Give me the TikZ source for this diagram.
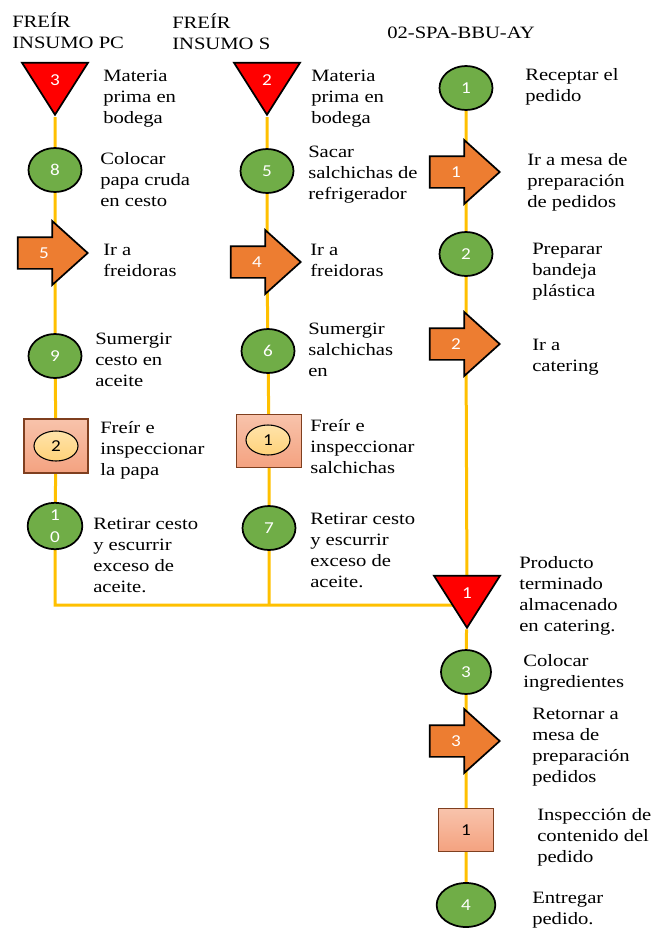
\documentclass[tikz,border=0pt]{standalone}
\usepackage{fontspec}
\setmainfont{Liberation Serif}[FakeStretch=1.19]
\newfontfamily\numfont{Carlito}[FakeStretch=1.15]
\usepackage{tikz}
\usetikzlibrary{shapes,arrows,backgrounds}

\definecolor{opgreen}{HTML}{70AD47}
\definecolor{mvorange}{HTML}{ED7D31}
\definecolor{flowline}{HTML}{FFC000}
\definecolor{insptop}{HTML}{F8C3AB}
\definecolor{inspbot}{HTML}{F4A280}
\definecolor{inspedge}{HTML}{7F3F1F}
\definecolor{innertop}{HTML}{FFE3AA}
\definecolor{innerbot}{HTML}{FFD27A}

\begin{document}
\begin{tikzpicture}
		[
		x = 0.75pt, y = -0.75pt,
		oper/.style = {ellipse, draw, line width=1.3pt, fill=opgreen, minimum width=39.75pt, minimum height=33pt, inner sep=0pt, text=white, align=center, font=\numfont\fontsize{12.5}{16.5}\selectfont},
		stor/.style = {isosceles triangle, isosceles triangle stretches, shape border rotate=-90, draw, line width=1.3pt, fill=red, minimum width=49.5pt, minimum height=39pt, inner sep=0pt, anchor=apex, text=white, font=\numfont\fontsize{12.5}{15}\selectfont},
		move/.style = {single arrow, draw, line width=1.3pt, fill=mvorange, minimum height=52.5pt, single arrow head extend=12pt, single arrow tip angle=84, inner xsep=0pt, inner ysep=7.25pt, text height=8pt, text depth=0pt, anchor=tip, text=white, font=\numfont\fontsize{12.5}{15}\selectfont},
		insp/.style = {rectangle, draw=inspedge, line width=0.8pt, top color=insptop, bottom color=inspbot, minimum width=48pt, minimum height=40.5pt, font=\numfont\fontsize{12.5}{15}\selectfont},
		both/.style = {ellipse, draw, line width=0.8pt, top color=innertop, bottom color=innerbot, minimum width=33pt, minimum height=22.5pt, inner sep=0pt, font=\numfont\fontsize{12.5}{15}\selectfont},
		flow/.style = {draw=flowline, line width=2.25pt},
		txt/.style = {anchor=north west, align=left, inner sep=0pt, font=\fontsize{13}{15.75}\selectfont}
		]
		
		\useasboundingbox (0,0) rectangle (659,929);
		
		\node[txt] (h-pc) at (12,12) {FREÍR\\INSUMO PC};
		\node[stor] (t3) at (55,117) {3};
		\node[txt] (d-t3) at (103,70) {Materia\\prima en\\bodega};
		\node[oper] (o8) at (55,170) {8};
		\node[txt] (d-o8) at (100,152) {Colocar\\papa cruda\\en cesto};
		\node[move] (a5) at (89,253) {5};
		\node[txt] (d-a5) at (103,244) {Ir a\\freidoras};
		\node[oper] (o9) at (55,356) {9};
		\node[txt] (d-o9) at (95,333) {Sumergir\\cesto en\\aceite};
		\node[insp] (c2) at (56,446) {};
		\node[both] (c2in) at (c2) {2};
		\node[txt] (d-c2) at (100,421) {Freír e\\inspeccionar\\la papa};
		\node[oper, minimum width=41pt] (o10) at (55,526) {1\\0};
		\node[txt] (d-o10) at (93,518) {Retirar cesto\\y escurrir\\exceso de\\aceite.};
		
		\node[txt] (h-s) at (172,13) {FREÍR\\INSUMO S};
		\node[stor] (t2) at (267,117) {2};
		\node[txt] (d-t2) at (311,70) {Materia\\prima en\\bodega};
		\node[oper] (o5) at (267,171) {5};
		\node[txt] (d-o5) at (308,146) {Sacar\\salchichas de\\refrigerador};
		\node[move] (a4) at (302,262) {4};
		\node[txt] (d-a4) at (310,244) {Ir a\\freidoras};
		\node[oper] (o6) at (268,351) {6};
		\node[txt] (d-o6) at (308,323) {Sumergir\\salchichas\\en};
		\node[insp, minimum width=48.75pt, minimum height=39.75pt] (c1) at (269,441) {};
		\node[both] (c1in) at (268,440) {1};
		\node[txt] (d-c1) at (310,419) {Freír e\\inspeccionar\\salchichas};
		\node[oper] (o7) at (269,528) {7};
		\node[txt] (d-o7) at (310,513) {Retirar cesto\\y escurrir\\exceso de\\aceite.};
		
		\node[txt] (h-ay) at (387,27) {02-SPA-BBU-AY};
		\node[oper] (o1) at (466,88) {1};
		\node[txt] (d-o1) at (525,68) {Receptar el\\pedido};
		\node[move] (a1) at (501,172) {1};
		\node[txt] (d-a1) at (527,153) {Ir a mesa de\\preparación\\de pedidos};
		\node[oper] (o2) at (466,254) {2};
		\node[txt] (d-o2) at (532,243) {Preparar\\bandeja\\plástica};
		\node[move] (a2) at (501,344) {2};
		\node[txt] (d-a2) at (532,339) {Ir a\\catering};
		\node[stor] (t1) at (467,630) {1};
		\node[txt] (d-t1) at (519,556) {Producto\\terminado\\almacenado\\en catering.};
		\node[oper, minimum width=37.5pt] (o3) at (466,672) {3};
		\node[txt] (d-o3) at (523,654) {Colocar\\ingredientes};
		\node[move] (a3) at (501,741) {3};
		\node[txt] (d-a3) at (532,708) {Retornar a\\mesa de\\preparación\\pedidos};
		\node[insp, minimum width=41pt, minimum height=32pt] (s1) at (466,830) {1};
		\node[txt] (d-s1) at (537,808) {Inspección de\\contenido del\\pedido};
		\node[oper, minimum width=44pt] (o4) at (466,905) {4};
		\node[txt] (d-o4) at (532,892) {Entregar\\pedido.};
		
		\coordinate (join) at (55,605);
		
		\begin{scope}[on background layer]
			\draw[flow] (t3) -- (o8) -- (o8 |- a5) -- (o9) -- (c2) -- (o10) -- (join) -- (join -| t1);
			\draw[flow] (t2) -- (o5) -- (o5 |- a4) -- (o6) -- (c1) -- (o7) -- (o7 |- join);
			\draw[flow] (o1) -- (o1 |- a1) -- (o2) -- (o2 |- a2) -- (t1) -- (o3) -- (o3 |- a3) -- (s1) -- (o4);
		\end{scope}
		
\end{tikzpicture}
\end{document}
